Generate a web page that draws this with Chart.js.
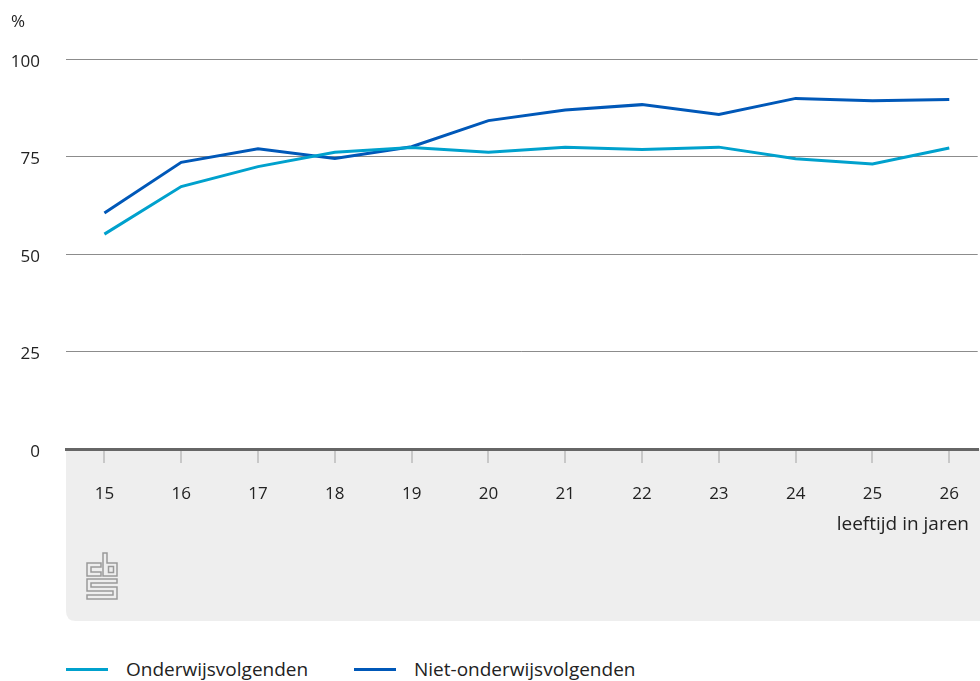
<!DOCTYPE html>
<html lang="nl">
<head>
<meta charset="utf-8">
<script src="https://cdn.jsdelivr.net/npm/chart.js@4/dist/chart.umd.min.js"></script>
<style>
    html, body { margin: 0; padding: 0; background: #fff; overflow: hidden; }
    #wrap { position: relative; width: 980px; height: 681px; }
    #chart { position: absolute; left: 0; top: 0; }
    #legend { position: absolute; left: 0; top: 656px; font-family: "Open Sans", sans-serif; font-size: 19px; color: #222; }
    .item { position: absolute; top: 0; white-space: nowrap; line-height: 26px; }
    .swatch { position: absolute; top: 12px; width: 42px; height: 3px; }
    .label { position: absolute; left: 60px; top: 0; }
</style>
</head>
<body>
<div id="wrap">
    <canvas id="chart" width="980" height="630"></canvas>
    <div id="legend"></div>
</div>
<script>
const ages = [15, 16, 17, 18, 19, 20, 21, 22, 23, 24, 25, 26];
const onderwijsvolgenden = [55.1, 67.3, 72.4, 76.1, 77.3, 76.1, 77.4, 76.8, 77.4, 74.4, 73.1, 77.2];
const nietOnderwijsvolgenden = [60.5, 73.5, 77.0, 74.5, 77.5, 84.2, 86.9, 88.3, 85.8, 89.9, 89.3, 89.6];
const yTicks = [0, 25, 50, 75, 100];

const FONT = '"Open Sans", sans-serif';
const LIGHT = '#00a1cd';
const DARK = '#0058b8';

function points(values) {
    return ages.map((a, i) => ({ x: a, y: values[i] }));
}

// grey footer panel under the x axis, with the cbs mark
const panel = {
    id: 'panel',
    beforeDraw(chart) {
        const ctx = chart.ctx;
        const area = chart.chartArea;
        const x0 = area.left, y0 = area.bottom, x1 = chart.width, y1 = 621, r = 10;
        ctx.save();
        ctx.fillStyle = '#eeeeee';
        ctx.beginPath();
        ctx.moveTo(x0, y0);
        ctx.lineTo(x1, y0);
        ctx.lineTo(x1, y1);
        ctx.lineTo(x0 + r, y1);
        ctx.quadraticCurveTo(x0, y1, x0, y1 - r);
        ctx.closePath();
        ctx.fill();

        ctx.strokeStyle = '#9a9a9a';
        ctx.lineWidth = 1.5;
        const shapes = [
            [[101, 563], [87, 563], [87, 576], [101, 576], [101, 572], [91, 572], [91, 567], [101, 567]],
            [[103, 553], [107, 553], [107, 563], [117, 563], [117, 576], [103, 576]],
            [[108.5, 566.5], [113.5, 566.5], [113.5, 572.5], [108.5, 572.5]],
            [[87, 579], [117, 579], [117, 583], [91, 583], [91, 587], [117, 587], [117, 599], [87, 599], [87, 595], [113, 595], [113, 591], [87, 591]]
        ];
        shapes.forEach(s => {
            ctx.beginPath();
            s.forEach((p, i) => i ? ctx.lineTo(p[0], p[1]) : ctx.moveTo(p[0], p[1]));
            ctx.closePath();
            ctx.stroke();
        });
        ctx.restore();
    },
    afterDraw(chart) {
        const ctx = chart.ctx;
        ctx.save();
        ctx.fillStyle = '#222';
        ctx.font = '17px ' + FONT;
        ctx.textBaseline = 'middle';
        ctx.textAlign = 'left';
        ctx.fillText('%', 11, 22);
        ctx.font = '19px ' + FONT;
        ctx.textAlign = 'right';
        ctx.fillText('leeftijd in jaren', 969, 525);
        ctx.restore();
    }
};

const chart = new Chart(document.getElementById('chart'), {
    type: 'line',
    data: {
        datasets: [{
            label: 'Onderwijsvolgenden',
            data: points(onderwijsvolgenden),
            borderColor: LIGHT,
            backgroundColor: LIGHT,
            borderWidth: 3,
            pointRadius: 0,
            tension: 0
        }, {
            label: 'Niet-onderwijsvolgenden',
            data: points(nietOnderwijsvolgenden),
            borderColor: DARK,
            backgroundColor: DARK,
            borderWidth: 3,
            pointRadius: 0,
            tension: 0
        }]
    },
    options: {
        responsive: false,
        animation: false,
        layout: { padding: { top: 59, left: 0, right: 0, bottom: 0 } },
        plugins: {
            legend: { display: false },
            tooltip: { enabled: false }
        },
        scales: {
            x: {
                type: 'linear',
                min: 14.5,
                max: 26.37,
                afterBuildTicks: scale => { scale.ticks = ages.map(v => ({ value: v })); },
                afterFit: scale => { scale.height = 181; },
                grid: { drawOnChartArea: false, drawTicks: true, tickLength: 14, color: '#c8c8c8', lineWidth: 2 },
                border: { display: true, color: '#666', width: 3 },
                ticks: { padding: 21, color: '#222', font: { family: FONT, size: 17 }, maxRotation: 0, autoSkip: false }
            },
            y: {
                min: 0,
                max: 100,
                afterBuildTicks: scale => { scale.ticks = yTicks.map(v => ({ value: v })); },
                afterFit: scale => { scale.width = 66; },
                grid: { drawTicks: false, color: '#8c8c8c', lineWidth: 1 },
                border: { display: false },
                ticks: { padding: 26, labelOffset: 3, color: '#222', font: { family: FONT, size: 17 } }
            }
        }
    },
    plugins: [panel]
});

// legend built from the datasets
const legendPos = [66, 354];
const legend = document.getElementById('legend');
chart.data.datasets.forEach((ds, i) => {
    const item = document.createElement('div');
    item.className = 'item';
    item.style.left = legendPos[i] + 'px';
    const sw = document.createElement('span');
    sw.className = 'swatch';
    sw.style.background = ds.borderColor;
    const lb = document.createElement('span');
    lb.className = 'label';
    lb.textContent = ds.label;
    item.appendChild(sw);
    item.appendChild(lb);
    legend.appendChild(item);
});
</script>
</body>
</html>
